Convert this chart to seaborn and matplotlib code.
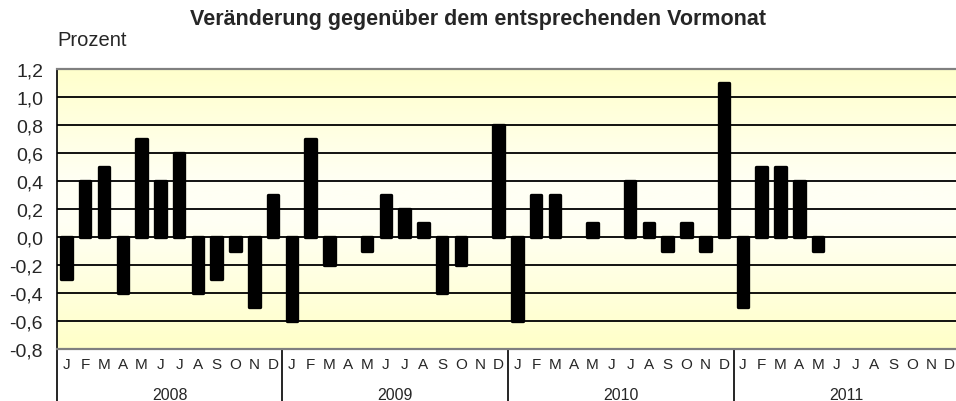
import numpy as np
import pandas as pd
import matplotlib
matplotlib.use("Agg")
import matplotlib.pyplot as plt
from matplotlib.colors import LinearSegmentedColormap
import seaborn as sns

# Monthly change vs. previous month, in percent (NaN = no bar)
years = ["2008", "2009", "2010", "2011"]
months = ["J", "F", "M", "A", "M", "J", "J", "A", "S", "O", "N", "D"]
v2008 = [-0.3, 0.4, 0.5, -0.4, 0.7, 0.4, 0.6, -0.4, -0.3, -0.1, -0.5, 0.3]
v2009 = [-0.6, 0.7, -0.2, 0.0, -0.1, 0.3, 0.2, 0.1, -0.4, -0.2, 0.0, 0.8]
v2010 = [-0.6, 0.3, 0.3, 0.0, 0.1, 0.0, 0.4, 0.1, -0.1, 0.1, -0.1, 1.1]
v2011 = [-0.5, 0.5, 0.5, 0.4, -0.1, np.nan, np.nan, np.nan, np.nan, np.nan, np.nan, np.nan]
yticks = [-0.8, -0.6, -0.4, -0.2, 0.0, 0.2, 0.4, 0.6, 0.8, 1.0, 1.2]

values = v2008 + v2009 + v2010 + v2011
data = pd.DataFrame({"pos": list(range(len(values))), "value": values})

sns.set_style("white")
plt.rcParams["font.family"] = ["Liberation Sans", "DejaVu Sans"]

fig = plt.figure(figsize=(9.56, 4.02), dpi=100)
ax = fig.add_axes([57 / 956, 52 / 402, 902 / 956, 280 / 402])

# yellow - white - yellow background
cmap = LinearSegmentedColormap.from_list(
    "bg", [(0.0, "#ffffc8"), (0.45, "#fffff4"), (0.6, "#fffff4"), (1.0, "#ffffcc")])
grad = np.linspace(0, 1, 256).reshape(-1, 1)
ax.imshow(grad, cmap=cmap, aspect="auto", extent=(-0.5, 47.5, -0.8, 1.2),
          origin="lower", zorder=0)

sns.barplot(data=data, x="pos", y="value", order=list(range(48)), color="black",
            width=0.56, errorbar=None, saturation=1, ax=ax, zorder=3)
for bar in ax.patches:
    if bar.get_height() == 0:
        bar.set_visible(False)
        continue
    bar.set_edgecolor("black")
    bar.set_linewidth(2.4)
    bar.set_joinstyle("round")

for y in yticks[1:-1]:
    ax.axhline(y, color="black", lw=1.3, zorder=2)

ax.set_xlim(-0.5, 47.5)
ax.set_ylim(-0.8, 1.2)
ax.set_yticks(yticks)
ax.set_yticklabels([f"{t:.1f}".replace(".", ",") for t in yticks], fontsize=14)
ax.tick_params(axis="y", length=5, width=1.2, color="black", pad=5)
ax.set_xticks(range(48))
ax.set_xticklabels(months * 4, fontsize=11)
ax.tick_params(axis="x", length=0, pad=6)
ax.set_xlabel("")
ax.set_ylabel("")

ax.spines["right"].set_visible(False)
ax.spines["left"].set_color("black")
ax.spines["left"].set_linewidth(1.2)
ax.spines["top"].set_color("#808080")
ax.spines["bottom"].set_color("#808080")
ax.spines["top"].set_linewidth(1.6)
ax.spines["bottom"].set_linewidth(1.6)

# year separators and year labels below the axis
trans = ax.get_xaxis_transform()
for i, yr in enumerate(years):
    ax.plot([i * 12 - 0.5, i * 12 - 0.5], [0, -0.19], color="black", lw=1.2,
            transform=trans, clip_on=False)
    ax.text(i * 12 + 5.5, -0.162, yr, transform=trans, ha="center", va="center",
            fontsize=11.5)

fig.text(0.5, 0.952, "Veränderung gegenüber dem entsprechenden Vormonat",
         ha="center", va="center", fontsize=15.5, fontweight="bold")
fig.text(57 / 956, 0.9, "Prozent", ha="left", va="center", fontsize=14.5)

fig.savefig("out.png", dpi=100)
